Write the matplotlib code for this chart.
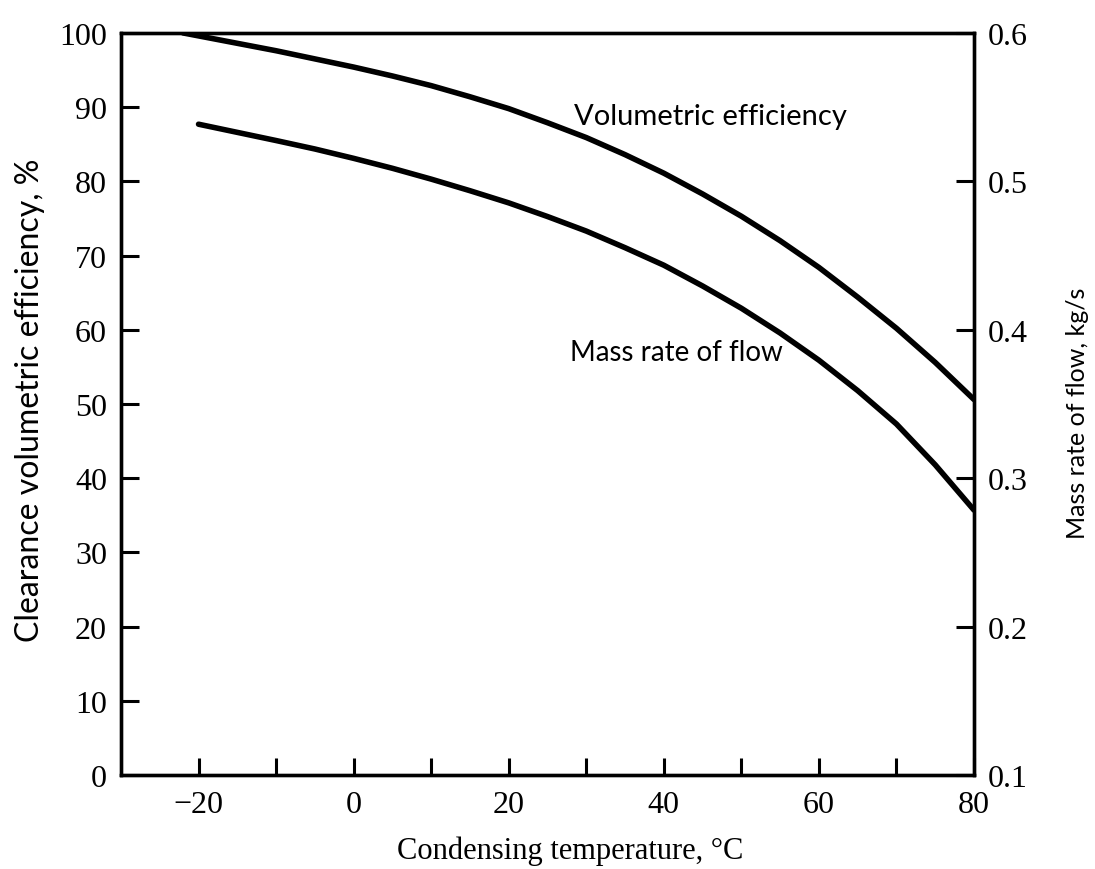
import matplotlib
matplotlib.use("Agg")
import matplotlib.pyplot as plt
from matplotlib.ticker import FixedLocator

# ---- data ----
vol_temp = [-22, -16, -10, -5, 0, 5, 10, 15, 20, 25, 30, 35, 40, 45, 50,
            55, 60, 65, 70, 75, 80]
vol_eff = [100.0, 98.8, 97.6, 96.5, 95.4, 94.2, 92.9, 91.4, 89.8, 87.9, 85.9,
           83.6, 81.1, 78.3, 75.3, 72.0, 68.4, 64.4, 60.2, 55.6, 50.6]

mass_temp = [-20, -15, -10, -5, 0, 5, 10, 15, 20, 25, 30, 35, 40, 45, 50,
             55, 60, 65, 70, 75, 80]
mass_flow = [0.5385, 0.5330, 0.5275, 0.5218, 0.5155, 0.5088, 0.5015, 0.4937,
             0.4855, 0.4763, 0.4665, 0.4553, 0.4435, 0.4295, 0.4145, 0.3978,
             0.3795, 0.3590, 0.3365, 0.3090, 0.2785]

x_major = [-20, 0, 20, 40, 60, 80]
x_labels = ["\u221220", "0", "20", "40", "60", "80"]
x_minor = [-10, 10, 30, 50, 70]
left_ticks = [0, 10, 20, 30, 40, 50, 60, 70, 80, 90, 100]
right_ticks = [0.1, 0.2, 0.3, 0.4, 0.5, 0.6]

serif = "Liberation Serif"
sans = "Lato"

fig = plt.figure(figsize=(10.95, 8.7), dpi=100)
ax = fig.add_axes([0.1105, 0.108, 0.779, 0.853])
ax2 = ax.twinx()

lw_curve = 4.0
ax.plot(vol_temp, vol_eff, color="black", lw=lw_curve, solid_capstyle="round",
        solid_joinstyle="round")
ax2.plot(mass_temp, mass_flow, color="black", lw=lw_curve,
         solid_capstyle="round", solid_joinstyle="round")

ax.set_xlim(-30, 80)
ax.set_ylim(0, 100)
ax2.set_ylim(0.1, 0.6)

ax.xaxis.set_major_locator(FixedLocator(x_major))
ax.xaxis.set_minor_locator(FixedLocator(x_minor))
ax.set_xticklabels(x_labels)
ax.set_yticks(left_ticks)
ax.set_yticklabels([str(v) for v in left_ticks])
ax2.set_yticks(right_ticks)
ax2.set_yticklabels([f"{v:.1f}" for v in right_ticks])

for a in (ax, ax2):
    for s in a.spines.values():
        s.set_linewidth(2.4)
ax.tick_params(axis="x", which="both", direction="in", length=12, width=2.2,
               pad=11, labelsize=23, top=False)
ax.tick_params(axis="y", which="both", direction="in", length=13, width=2.2,
               pad=10, labelsize=23, right=False)
ax2.tick_params(axis="y", direction="in", length=13, width=2.2, pad=10,
                labelsize=23)
for lab in ax.get_xticklabels() + ax.get_yticklabels() + ax2.get_yticklabels():
    lab.set_fontfamily(serif)

fig.text(0.5205, 0.021, "Condensing temperature, \u00b0C", fontfamily=serif,
         fontsize=22, ha="center", va="center")
fig.text(0.0274, 0.540, "Clearance volumetric efficiency, %", fontfamily=sans,
         fontsize=23, rotation=90, ha="center", va="center")
fig.text(0.9836, 0.525, "Mass rate of flow, kg/s", fontfamily=sans,
         fontsize=18, rotation=90, ha="center", va="center")

ax.text(46, 87.7, "Volumetric efficiency", fontfamily=sans, fontsize=21,
        ha="center", va="baseline")
ax.text(41.6, 55.9, "Mass rate of flow", fontfamily=sans, fontsize=20,
        ha="center", va="baseline")

fig.savefig("out.png", dpi=100, facecolor="white")
